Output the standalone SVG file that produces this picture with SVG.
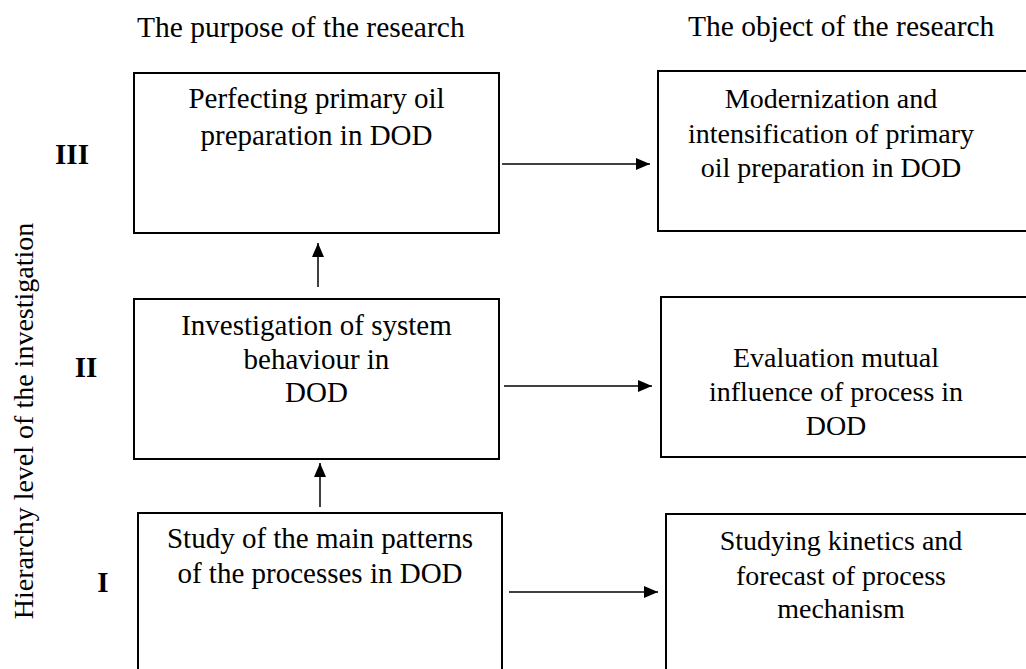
<svg xmlns="http://www.w3.org/2000/svg" width="1026" height="669" viewBox="0 0 1026 669">
<style>
text{font-family:"Liberation Serif","Times New Roman",serif;fill:#000}
.hd{font-size:29.5px}
.l{font-size:29px;text-anchor:middle}
.r{font-size:28px;text-anchor:middle}
.rn{font-size:29px;font-weight:bold;text-anchor:middle}
.box{fill:#fff;stroke:#000;stroke-width:2}
.c{stroke:#000;stroke-width:1.5;fill:none;marker-end:url(#ah)}
</style>
<defs>
<marker id="ah" markerUnits="userSpaceOnUse" markerWidth="14" markerHeight="12" refX="14" refY="6" orient="auto">
<path d="M0,0 L14,6 L0,12 Z" fill="#000"/>
</marker>
</defs>
<rect width="1026" height="669" fill="#fff"/>
<g id="headers">
<text class="hd" x="137" y="37">The purpose of the research</text>
<text class="hd" x="688" y="36">The object of the research</text>
</g>
<g id="axis">
<text transform="translate(33,421) rotate(-90)" style="font-size:28px;text-anchor:middle">Hierarchy level of the investigation</text>
<text class="rn" x="72" y="164">III</text>
<text class="rn" x="86" y="377">II</text>
<text class="rn" x="103" y="592">I</text>
</g>
<g id="purpose3">
<rect class="box" x="134" y="73" width="365" height="160"/>
<text class="l" x="316.5" y="108">Perfecting primary oil</text>
<text class="l" x="316.5" y="145">preparation in DOD</text>
</g>
<g id="purpose2">
<rect class="box" x="134" y="299" width="365" height="160"/>
<text class="l" x="316.5" y="335">Investigation of system</text>
<text class="l" x="316.5" y="369">behaviour in</text>
<text class="l" x="316.5" y="402">DOD</text>
</g>
<g id="purpose1">
<rect class="box" x="138" y="513" width="364" height="170"/>
<text class="l" x="320" y="548">Study of the main patterns</text>
<text class="l" x="320" y="583">of the processes in DOD</text>
</g>
<g id="object3">
<rect class="box" x="658" y="71" width="380" height="160"/>
<text class="r" x="831" y="108">Modernization and</text>
<text class="r" x="831" y="143">intensification of primary</text>
<text class="r" x="831" y="177">oil preparation in DOD</text>
</g>
<g id="object2">
<rect class="box" x="661" y="297" width="380" height="160"/>
<text class="r" x="836" y="367">Evaluation mutual</text>
<text class="r" x="836" y="401">influence of process in</text>
<text class="r" x="836" y="435">DOD</text>
</g>
<g id="object1">
<rect class="box" x="666" y="514" width="380" height="170"/>
<text class="r" x="841" y="550">Studying kinetics and</text>
<text class="r" x="841" y="585">forecast of process</text>
<text class="r" x="841" y="618">mechanism</text>
</g>
<g id="connectors">
<line class="c" x1="318" y1="287" x2="318" y2="243"/>
<line class="c" x1="320" y1="507" x2="320" y2="463"/>
<line class="c" x1="502" y1="164" x2="650" y2="164"/>
<line class="c" x1="504" y1="386" x2="652" y2="386"/>
<line class="c" x1="509" y1="592" x2="658" y2="592"/>
</g>
</svg>
